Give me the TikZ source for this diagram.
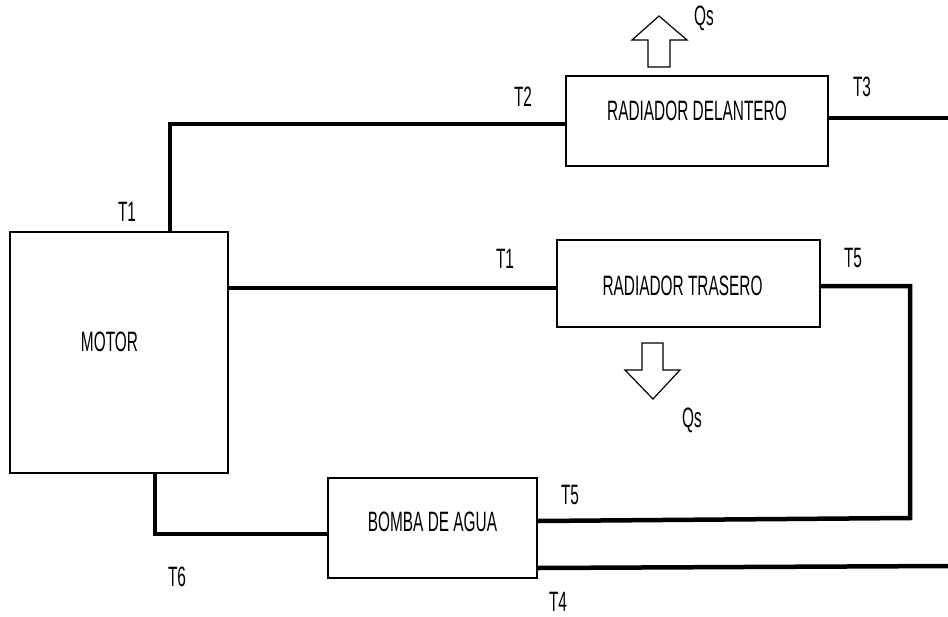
\documentclass[tikz,border=0pt]{standalone}
\usepackage{fontspec}
\setmainfont{Liberation Sans}[FakeStretch=0.55]
\begin{document}
\begin{tikzpicture}[x=1pt,y=-1pt,
  blk/.style={draw,line width=1.3pt,inner sep=0pt},
  pipe/.style={line width=4.5pt},
  lbl/.style={font=\fontsize{28}{28}\selectfont,inner sep=0pt},
  hollow/.style={draw,line width=1.2pt,fill=white,line join=miter}]
\useasboundingbox (0,0) rectangle (948,616);
% blocks
\node[blk,minimum width=218pt,minimum height=241pt,
  label={[lbl,xshift=-9.5pt,yshift=10.5pt]center:MOTOR}] (m) at (119,352.5) {};
\node[blk,minimum width=262pt,minimum height=90pt,
  label={[lbl,yshift=10pt]center:RADIADOR DELANTERO}] (rd) at (697,121) {};
\node[blk,minimum width=263pt,minimum height=87pt,
  label={[lbl,xshift=-6pt,yshift=-2.5pt]center:RADIADOR TRASERO}] (rt) at (688.5,283.5) {};
\node[blk,minimum width=209pt,minimum height=100pt,
  label={[lbl,yshift=6pt]center:BOMBA DE AGUA}] (b) at (432.5,528) {};
% junction coordinates
\coordinate (c1) at (170,124);
\coordinate (e3) at (948,118);
\coordinate (c3) at (228,288);
\coordinate (c5) at (910,286);
\coordinate (c6) at (910,518);
\coordinate (c7) at (537,521);
\coordinate (c8) at (155,534);
\coordinate (c9) at (537,568);
\coordinate (e4) at (948,566);
% pipes
\draw[pipe] (m.north -| c1) |- (rd.west |- c1);
\draw[pipe] (rd.east |- e3) -- (e3);
\draw[pipe] (m.east |- c3) -- (rt.west |- c3);
\draw[pipe,line join=miter] (rt.east |- c5) -- (c5) -- (c6) -- (b.east |- c7);
\draw[pipe,line join=miter] (m.south -| c8) -- (c8) -- (b.west |- c8);
\draw[pipe] (b.east |- c9) -- (e4);
% heat arrows
\draw[hollow] (648,67) -- (648,40) -- (632,40) -- (659,16) -- (687,40) -- (670,40) -- (670,67) -- cycle;
\draw[hollow] (642,343) -- (642,370) -- (625,370) -- (653,399) -- (680,370) -- (663,370) -- (663,343) -- cycle;
% labels
\node[lbl] (qs1) at (704,18) {Qs};
\node[lbl] (qs2) at (692,420) {Qs};
\node[lbl] (t2) at (523,97) {T2};
\node[lbl] (t3) at (862,87) {T3};
\node[lbl] (t1a) at (127,212) {T1};
\node[lbl] (t1b) at (505,259) {T1};
\node[lbl] (t5a) at (853,258) {T5};
\node[lbl] (t5b) at (570,495) {T5};
\node[lbl] (t6) at (177,577) {T6};
\node[lbl] (t4) at (558,602) {T4};
\end{tikzpicture}
\end{document}
